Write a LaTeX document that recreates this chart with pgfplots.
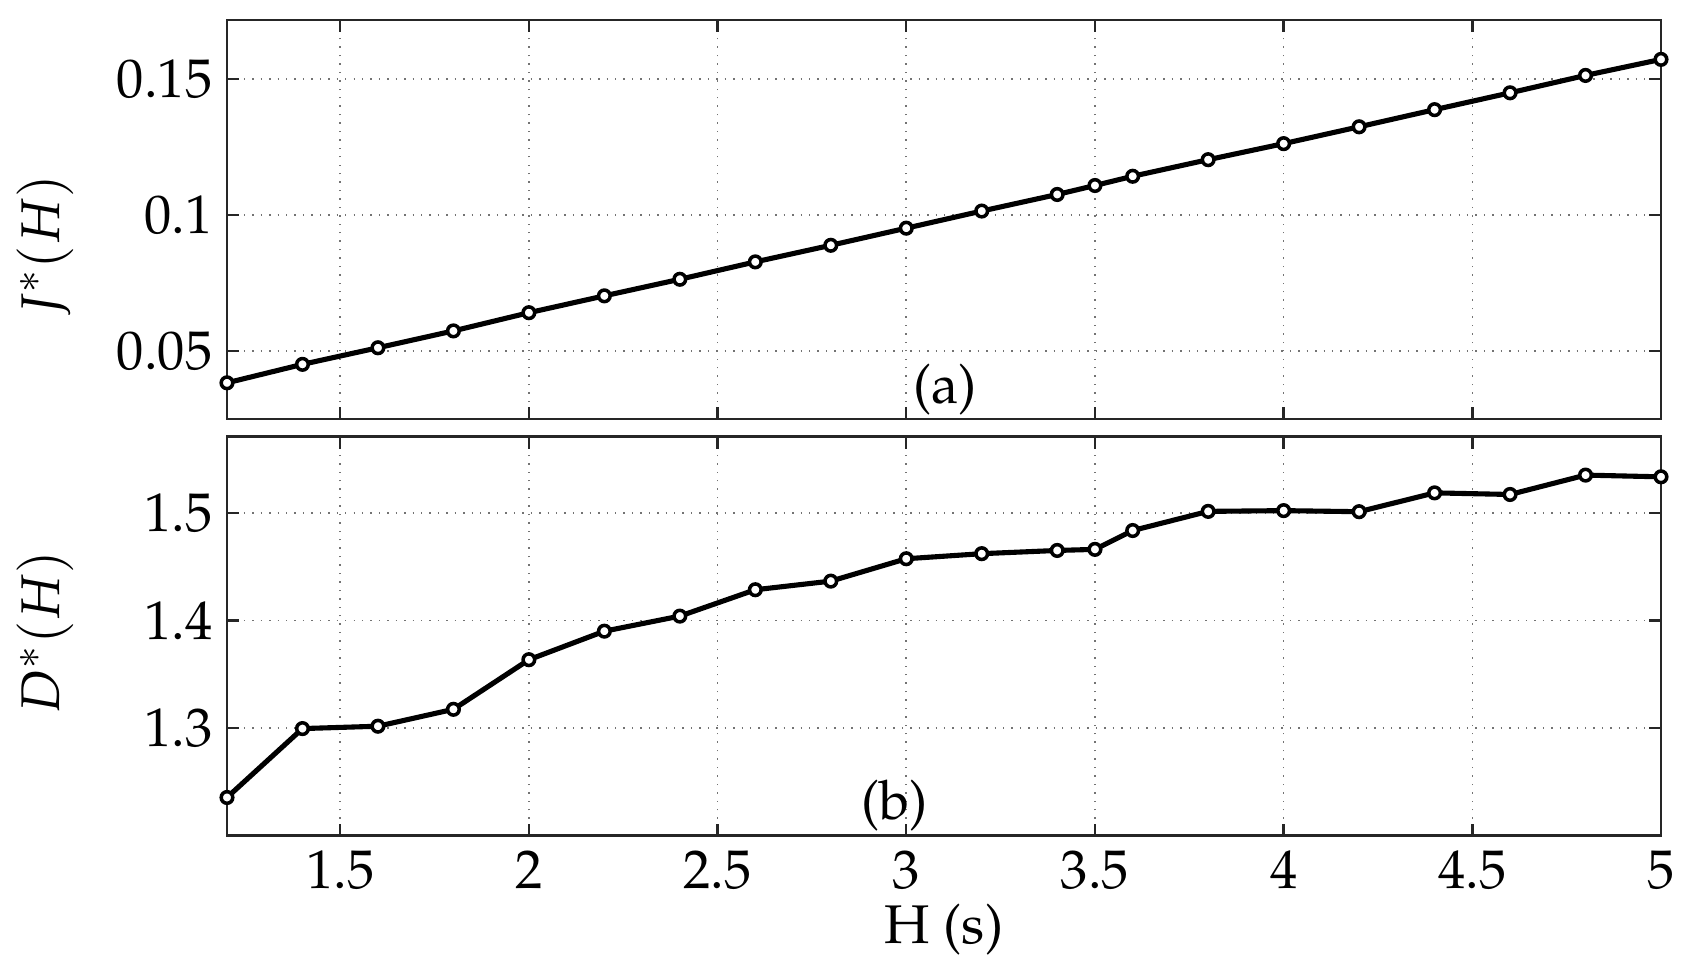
\documentclass[border=0pt]{standalone}
\usepackage[T1]{fontenc}
\usepackage{mathpazo}
\usepackage{pgfplots}
\pgfplotsset{compat=1.18}
\begin{document}
\begin{tikzpicture}
\path[use as bounding box] (0cm,0cm) rectangle (16.97cm,9.77cm);
\pgfplotsset{
  myax/.style={
    scale only axis, width=14.34cm, height=3.99cm,
    xmin=1.2, xmax=5,
    xtick={1.5,2,2.5,3,3.5,4,4.5,5},
    grid=major,
    major grid style={dotted, black!55, line width=0.45pt},
    tick align=inside,
    major tick length=1.2mm,
    every tick/.style={black!85, line width=0.7pt},
    axis line style={black!85, line width=0.7pt},
    tick label style={font=\fontsize{15.5}{18}\selectfont, inner sep=0pt},
    xticklabel style={yshift=-1.4mm},
    yticklabel style={xshift=-1.4mm},
    label style={font=\fontsize{15.5}{18}\selectfont},
    scaled ticks=false,
  },
  myplot/.style={black, line width=1.45pt, mark=*, mark size=1.65pt,
    mark options={fill=white, draw=black, line width=1pt}},
}
\begin{axis}[myax, at={(2.27cm,5.58cm)}, anchor=south west,
  ymin=0.025, ymax=0.1718,
  ytick={0.05,0.1,0.15}, yticklabels={0.05,0.1,0.15},
  xticklabels={},
  ylabel={$J^{*}(H)$},
  ylabel style={at={(axis description cs:-0.1165,0.433)}, anchor=base},
]
\addplot[myplot] coordinates {
(1.2,0.0383) (1.4,0.0451) (1.6,0.0512) (1.8,0.0574) (2.0,0.0641)
(2.2,0.0703) (2.4,0.0764) (2.6,0.0828) (2.8,0.0889) (3.0,0.0952)
(3.2,0.1015) (3.4,0.1076) (3.5,0.1109) (3.6,0.1143) (3.8,0.1204)
(4.0,0.1263) (4.2,0.1325) (4.4,0.1388) (4.6,0.1450) (4.8,0.1514)
(5.0,0.1573)
};
\node[font=\fontsize{15.5}{18}\selectfont] at (rel axis cs:0.5007,0.075) {(a)};
\end{axis}
\begin{axis}[myax, at={(2.27cm,1.413cm)}, anchor=south west,
  ymin=1.2, ymax=1.5707,
  ytick={1.3,1.4,1.5}, yticklabels={1.3,1.4,1.5},
  xticklabels={1.5,2,2.5,3,3.5,4,4.5,5},
  ylabel={$D^{*}(H)$},
  ylabel style={at={(axis description cs:-0.1165,0.51)}, anchor=base},
  xlabel={H (s)},
  xlabel style={at={(axis description cs:0.5,-0.269)}, anchor=base},
]
\addplot[myplot] coordinates {
(1.2,1.2355) (1.4,1.2995) (1.6,1.3017) (1.8,1.3174) (2.0,1.3635)
(2.2,1.3900) (2.4,1.4040) (2.6,1.4285) (2.8,1.4365) (3.0,1.4573)
(3.2,1.4620) (3.4,1.4650) (3.5,1.4660) (3.6,1.4835) (3.8,1.5013)
(4.0,1.5020) (4.2,1.5010) (4.4,1.5185) (4.6,1.5170) (4.8,1.5350)
(5.0,1.5334)
};
\node[font=\fontsize{15.5}{18}\selectfont] at (rel axis cs:0.4656,0.075) {(b)};
\end{axis}
\end{tikzpicture}
\end{document}
